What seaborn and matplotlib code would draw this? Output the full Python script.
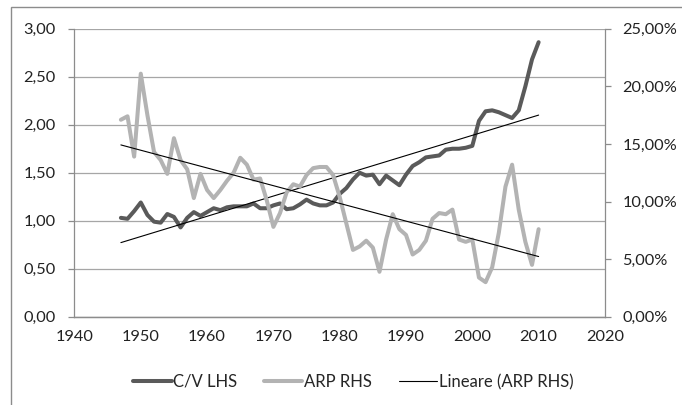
import numpy as np
import pandas as pd
import matplotlib
matplotlib.use("Agg")
import matplotlib.pyplot as plt
import matplotlib.ticker as mticker
from matplotlib.lines import Line2D
from matplotlib.patches import Rectangle
import seaborn as sns

# Years covered by both series
years = list(range(1947, 2011))

# C/V ratio, left axis
cv_lhs = [1.03, 1.02, 1.10, 1.19, 1.06, 0.99, 0.98, 1.07, 1.04, 0.93,
          1.03, 1.09, 1.05, 1.09, 1.13, 1.11, 1.14, 1.15, 1.15, 1.15,
          1.18, 1.13, 1.13, 1.16, 1.18, 1.12, 1.13, 1.17, 1.22, 1.18,
          1.16, 1.16, 1.19, 1.28, 1.34, 1.43, 1.50, 1.47, 1.48, 1.38,
          1.47, 1.42, 1.37, 1.48, 1.57, 1.61, 1.66, 1.67, 1.68, 1.74,
          1.75, 1.75, 1.76, 1.78, 2.04, 2.14, 2.15, 2.13, 2.10, 2.07,
          2.15, 2.40, 2.68, 2.86]

# ARP, right axis (percent)
arp_rhs = [17.1, 17.4, 13.9, 21.1, 17.5, 14.3, 13.6, 12.4, 15.5, 13.6,
           12.8, 10.3, 12.4, 11.0, 10.3, 11.0, 11.8, 12.5, 13.8, 13.2,
           11.9, 12.0, 10.1, 7.8, 9.0, 10.8, 11.5, 11.3, 12.3, 12.9,
           13.0, 13.0, 12.3, 10.4, 8.1, 5.8, 6.1, 6.6, 6.0, 3.9,
           6.7, 8.9, 7.6, 7.1, 5.4, 5.8, 6.6, 8.5, 9.0, 8.9,
           9.3, 6.7, 6.5, 6.7, 3.4, 3.0, 4.3, 7.3, 11.3, 13.2,
           9.3, 6.5, 4.5, 7.6]

df = pd.DataFrame({"year": years, "cv": cv_lhs, "arp": arp_rhs})

# Excel style linear trends
cv_fit = np.polyfit(df["year"], df["cv"], 1)
arp_fit = np.polyfit(df["year"], df["arp"], 1)
df["cv_trend"] = np.polyval(cv_fit, df["year"])
df["arp_trend"] = np.polyval(arp_fit, df["year"])

sns.set_style("white")
plt.rcParams["font.family"] = ["Lato", "DejaVu Sans"]

dark = "#5a5a5a"
light = "#b3b3b3"
axis_col = "#8c8c8c"

fig = plt.figure(figsize=(6.82, 4.05), dpi=100)
ax = fig.add_axes([0.1092, 0.218, 0.7778, 0.711])
ax2 = ax.twinx()

sns.lineplot(data=df, x="year", y="cv", ax=ax, color=dark, linewidth=2.9,
             solid_joinstyle="round", solid_capstyle="round", zorder=3)
sns.lineplot(data=df, x="year", y="cv_trend", ax=ax, color="black",
             linewidth=0.8, zorder=4)
sns.lineplot(data=df, x="year", y="arp", ax=ax2, color=light, linewidth=2.9,
             solid_joinstyle="round", solid_capstyle="round", zorder=3)
sns.lineplot(data=df, x="year", y="arp_trend", ax=ax2, color="black",
             linewidth=0.8, zorder=4)

ax.set_xlim(1940, 2020)
ax.set_ylim(0, 3)
ax2.set_ylim(0, 25)
ax.set_xticks(range(1940, 2021, 10))
ax.set_yticks(np.arange(0, 3.01, 0.5))
ax2.set_yticks(range(0, 26, 5))

ax.yaxis.set_major_formatter(mticker.FuncFormatter(lambda v, p: f"{v:.2f}".replace(".", ",")))
ax2.yaxis.set_major_formatter(mticker.FuncFormatter(lambda v, p: f"{v:.2f}".replace(".", ",") + "%"))

ax.grid(axis="y", color="#a6a6a6", linewidth=0.9)
ax.set_axisbelow(True)
ax.set_xlabel("")
ax.set_ylabel("")
ax2.set_ylabel("")

for a in (ax, ax2):
    for s in a.spines.values():
        s.set_color(axis_col)
        s.set_linewidth(0.9)
    a.spines["top"].set_visible(False)
    a.tick_params(colors=axis_col, labelcolor="#222222", labelsize=11.8,
                  length=4.5, width=0.9, direction="out")
ax.tick_params(axis="y", pad=9)
ax2.tick_params(axis="y", pad=8)
ax.tick_params(axis="x", pad=5)
ax2.spines["left"].set_visible(False)
ax.spines["right"].set_visible(False)

handles = [Line2D([], [], color=dark, linewidth=2.9),
           Line2D([], [], color=light, linewidth=2.9),
           Line2D([], [], color="black", linewidth=0.8)]
labels = ["C/V LHS", "ARP RHS", "Lineare (ARP RHS)"]
fig.legend(handles, labels, loc="center", bbox_to_anchor=(0.518, 0.057),
           ncol=3, frameon=False, fontsize=12, handlelength=2.3,
           handletextpad=0.1, columnspacing=1.6)

# outer chart frame (only top and left edges show)
fig.add_artist(Rectangle((11 / 682, -0.2), 1.2, 1.2 - 7 / 405,
                         transform=fig.transFigure, fill=False,
                         edgecolor=axis_col, linewidth=1.0))

fig.savefig("out.png", dpi=100)
